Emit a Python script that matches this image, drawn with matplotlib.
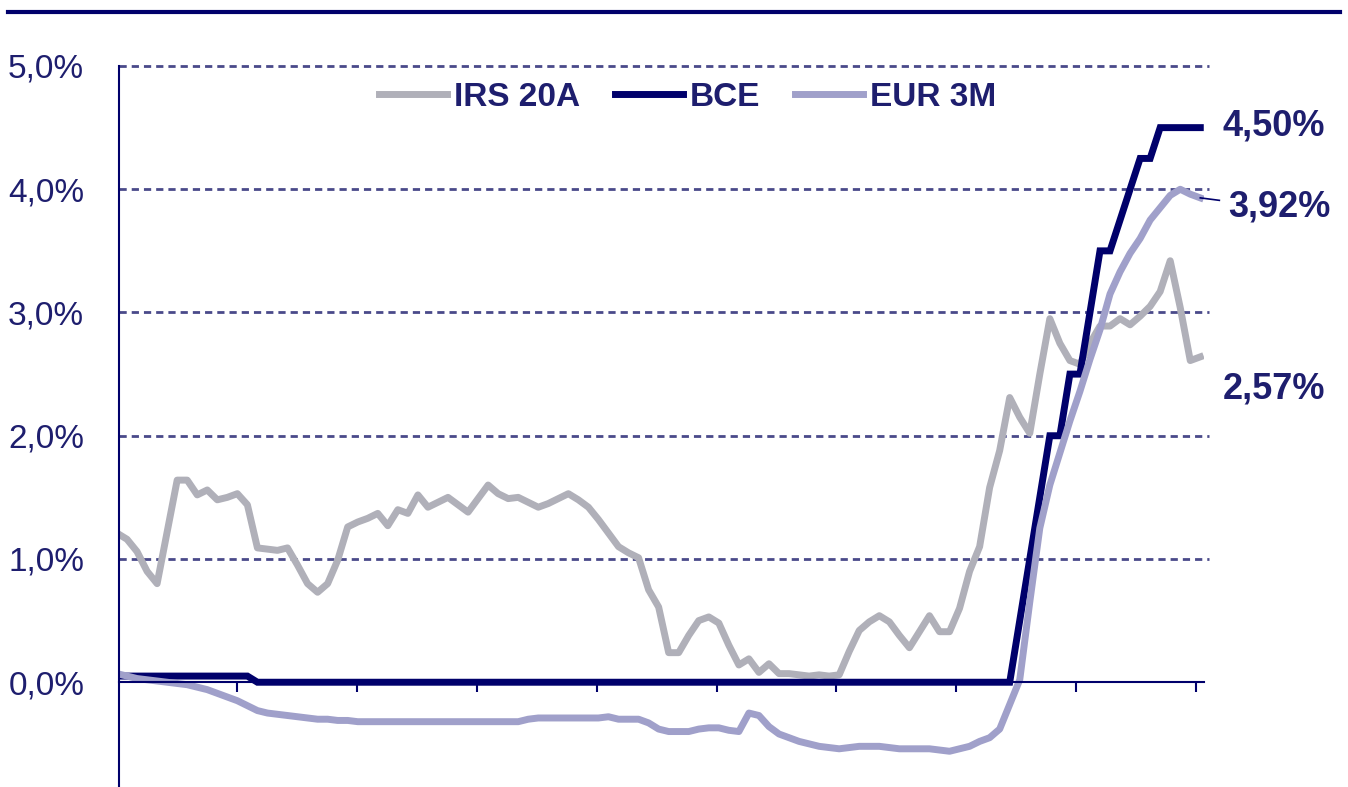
import numpy as np
import matplotlib
matplotlib.use("Agg")
import matplotlib.pyplot as plt
from matplotlib.lines import Line2D

plt.rcParams['font.family'] = ['Liberation Sans', 'DejaVu Sans']

# mensual, ene-2015 .. ene-2024
irs_20a = [1.21, 1.16, 1.06, 0.90, 0.80, 1.22, 1.64, 1.64, 1.52, 1.56,
           1.48, 1.50, 1.53, 1.44, 1.09, 1.08, 1.07, 1.09, 0.95, 0.80,
           0.73, 0.80, 0.99, 1.26, 1.30, 1.33, 1.37, 1.27, 1.40, 1.37,
           1.52, 1.42, 1.46, 1.50, 1.44, 1.38, 1.49, 1.60, 1.53, 1.49,
           1.50, 1.46, 1.42, 1.45, 1.49, 1.53, 1.48, 1.42, 1.32, 1.21,
           1.10, 1.05, 1.01, 0.75, 0.61, 0.24, 0.24, 0.38, 0.50, 0.53,
           0.48, 0.30, 0.14, 0.19, 0.08, 0.15, 0.07, 0.07, 0.06, 0.05,
           0.06, 0.05, 0.06, 0.25, 0.42, 0.49, 0.54, 0.49, 0.38, 0.28,
           0.41, 0.54, 0.41, 0.41, 0.60, 0.90, 1.10, 1.58, 1.88, 2.31,
           2.15, 2.02, 2.50, 2.95, 2.75, 2.61, 2.58, 2.75, 2.89, 2.89,
           2.95, 2.90, 2.97, 3.05, 3.17, 3.42, 3.04, 2.61, 2.64]

bce = [0.05] * 14 + [0.0] * 76 + [0.50, 1.00, 1.50, 2.00, 2.00, 2.50, 2.50,
                                  3.00, 3.50, 3.50, 3.75, 4.00, 4.25, 4.25,
                                  4.50, 4.50, 4.50, 4.50, 4.50]

eur_3m = [0.07, 0.05, 0.03, 0.02, 0.01, 0.00, -0.01, -0.02, -0.04, -0.06,
          -0.09, -0.12, -0.15, -0.19, -0.23, -0.25, -0.26, -0.27, -0.28, -0.29,
          -0.30, -0.30, -0.31, -0.31, -0.32, -0.32, -0.32, -0.32, -0.32, -0.32,
          -0.32, -0.32, -0.32, -0.32, -0.32, -0.32, -0.32, -0.32, -0.32, -0.32,
          -0.32, -0.30, -0.29, -0.29, -0.29, -0.29, -0.29, -0.29, -0.29, -0.28,
          -0.30, -0.30, -0.30, -0.33, -0.38, -0.40, -0.40, -0.40, -0.38, -0.37,
          -0.37, -0.39, -0.40, -0.25, -0.27, -0.36, -0.42, -0.45, -0.48, -0.50,
          -0.52, -0.53, -0.54, -0.53, -0.52, -0.52, -0.52, -0.53, -0.54, -0.54,
          -0.54, -0.54, -0.55, -0.56, -0.54, -0.52, -0.48, -0.45, -0.38, -0.18,
          0.02, 0.65, 1.25, 1.60, 1.86, 2.12, 2.36, 2.62, 2.86, 3.15,
          3.33, 3.48, 3.60, 3.75, 3.85, 3.95, 4.00, 3.96, 3.93]

series = ["IRS 20A", "BCE", "EUR 3M"]
end_labels = ["4,50%", "3,92%", "2,57%"]
end_label_y = [4.51, 3.86, 2.38]
ytick_vals = [0, 1, 2, 3, 4, 5]
ytick_labels = ["0,0%", "1,0%", "2,0%", "3,0%", "4,0%", "5,0%"]

navy = "#00006B"
txt = "#1E1E6E"
grid_c = "#4A4A8A"
gris = "#B0B0B9"
lila = "#A0A0CA"

x = np.arange(len(irs_20a))

fig = plt.figure(figsize=(13.48, 7.87), dpi=100)
ax = fig.add_axes([119 / 1348, 0, 1085 / 1348, 721 / 787])

ax.plot(x, irs_20a, color=gris, lw=5, label=series[0], solid_joinstyle="round")
ax.plot(x, bce, color=navy, lw=5, label=series[1], solid_joinstyle="miter")
ax.plot(x, eur_3m, color=lila, lw=5, label=series[2], solid_joinstyle="round")

ax.set_xlim(0.2, 108.37)
ax.set_ylim(-0.85, 5.0)

# lineas de grilla punteadas
ax.hlines(ytick_vals[1:], 0.2, 108.9, colors=grid_c, lw=2,
          linestyles=(0, (2.6, 1.8)), clip_on=False, zorder=0)

for s in ["top", "right"]:
    ax.spines[s].set_visible(False)
ax.spines["bottom"].set_position(("data", 0))
for s in ["left", "bottom"]:
    ax.spines[s].set_color(navy)
    ax.spines[s].set_linewidth(1.5)

ax.set_yticks(ytick_vals)
ax.set_yticklabels(ytick_labels)
ax.tick_params(axis="y", length=0, pad=25, labelsize=24, labelcolor=txt)
ax.set_xticks(np.linspace(11.96, 107.58, 9))
ax.set_xticklabels([])
ax.tick_params(axis="x", direction="out", length=7, width=1.5, color=navy)

# etiquetas finales
for lab, yy in zip(end_labels, end_label_y):
    xx = 110.2 if lab != "3,92%" else 110.8
    ax.text(xx, yy, lab, fontsize=26, fontweight="bold", color=txt,
            va="center", ha="left", clip_on=False)
ax.plot([x[-1], 109.9], [eur_3m[-1], 3.91], color=navy, lw=1.2, clip_on=False)

leg = ax.legend(loc="center", bbox_to_anchor=(0.524, 0.957), ncol=3,
                frameon=False, handlelength=2.05, handletextpad=0.2,
                columnspacing=1.05, borderpad=0,
                prop={"size": 24, "weight": "bold"})
for t in leg.get_texts():
    t.set_color(txt)

# linea superior
fig.add_artist(Line2D([8 / 1348, 1340 / 1348], [1 - 12 / 787] * 2,
                      transform=fig.transFigure, color=navy, lw=3))

fig.savefig("out.png", dpi=100)
